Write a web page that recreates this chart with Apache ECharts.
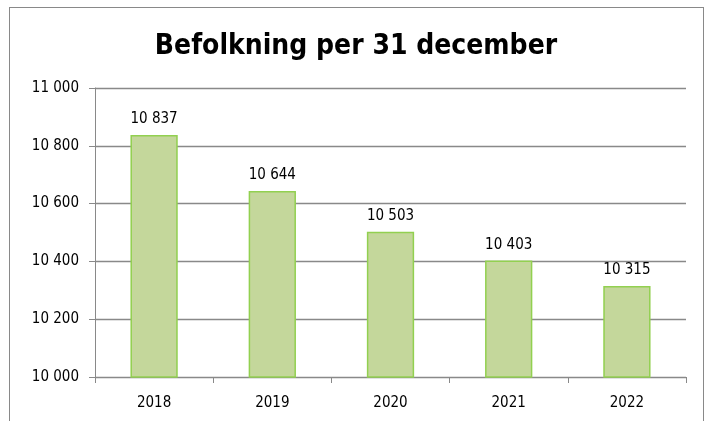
<!DOCTYPE html>
<html lang="sv" style="height: 100%">
<head>
<meta charset="utf-8">
<title>Befolkning per 31 december</title>
</head>
<body style="height: 100%; margin: 0; background: #fff">
<div id="frame" style="position: absolute; left: 9px; top: 7px; width: 695px; height: 430px; border: 1px solid #898989; box-sizing: border-box"></div>
<div id="container" style="position: absolute; left: 0; top: 0; width: 712px; height: 421px"></div>

<script type="text/javascript" src="https://cdn.jsdelivr.net/npm/echarts/dist/echarts.min.js"></script>

<script type="text/javascript">

var years = ['2018', '2019', '2020', '2021', '2022'];
var population = [10837, 10644, 10503, 10403, 10315];

var dom = document.getElementById('container');
var myChart = echarts.init(dom, null, { width: 712, height: 421 });

function spaced(v) {
    return String(v).replace(/\B(?=(\d{3})+(?!\d))/g, ' ');
}

var font = '"Liberation Sans Narrow", "DejaVu Sans Condensed", "Liberation Sans", sans-serif';

option = {
    title: {
        text: 'Befolkning per 31 december',
        left: 'center',
        top: 28,
        textStyle: {
            fontFamily: font,
            fontSize: 28,
            fontWeight: 'bold',
            color: '#000'
        }
    },
    grid: {
        left: 95,
        right: 26,
        top: 88,
        bottom: 44
    },
    xAxis: {
        type: 'category',
        data: years,
        axisLine: { lineStyle: { color: '#898989', width: 1 } },
        axisTick: { show: true, length: 6, lineStyle: { color: '#898989' } },
        axisLabel: { color: '#000', fontFamily: font, fontSize: 15, margin: 19 }
    },
    yAxis: {
        type: 'value',
        min: 10000,
        max: 11000,
        interval: 200,
        axisLine: { show: true, lineStyle: { color: '#898989', width: 1 } },
        axisTick: { show: true, length: 6, lineStyle: { color: '#898989' } },
        axisLabel: { color: '#000', fontFamily: font, fontSize: 15, margin: 16, formatter: spaced },
        splitLine: { lineStyle: { color: '#898989', width: 1.3 } }
    },
    series: [{
        type: 'bar',
        data: population,
        barWidth: '40%',
        itemStyle: {
            color: '#C4D79B',
            borderColor: '#92D050',
            borderWidth: 1.5
        },
        label: {
            show: true,
            position: 'top',
            distance: 8,
            color: '#000',
            fontFamily: font,
            fontSize: 15,
            formatter: function (p) { return spaced(p.value); }
        }
    }]
};

if (option && typeof option === 'object') {
    myChart.setOption(option);
}

</script>
</body>
</html>
